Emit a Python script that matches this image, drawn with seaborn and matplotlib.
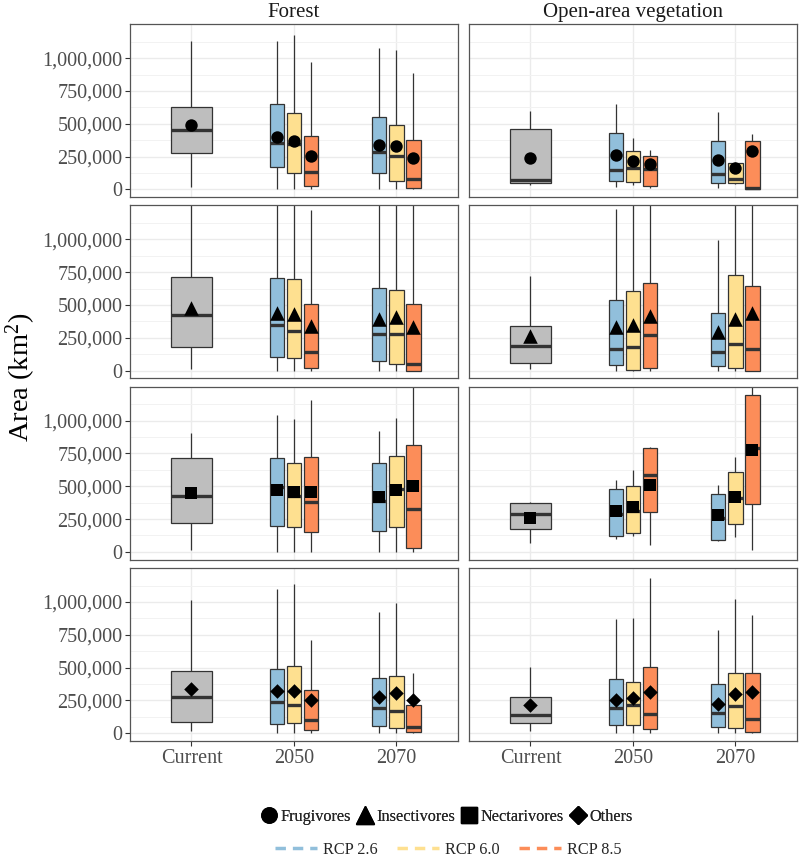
import numpy as np
import pandas as pd
import matplotlib
matplotlib.use("Agg")
import matplotlib.pyplot as plt
from matplotlib.lines import Line2D
from matplotlib.ticker import FixedLocator, FuncFormatter
import seaborn as sns

# ---------------- data (km^2) ----------------
habitats = ["Forest", "Open-area vegetation"]
guilds = ["Frugivores", "Insectivores", "Nectarivores", "Others"]
periods = ["Current", "2050", "2070"]
scenarios = ["RCP 2.6", "RCP 6.0", "RCP 8.5"]
# box order within each panel: Current, 2050 x (2.6, 6.0, 8.5), 2070 x (2.6, 6.0, 8.5)
box_period = ["Current", "2050", "2050", "2050", "2070", "2070", "2070"]
box_scenario = ["Current", "RCP 2.6", "RCP 6.0", "RCP 8.5", "RCP 2.6", "RCP 6.0", "RCP 8.5"]

# panels ordered: (Forest, Frug), (Open, Frug), (Forest, Insect), (Open, Insect), ...
whisker_low = [
    [15000, 0, 0, 0, 0, 0, 0],
    [33000, 20000, 35000, 12000, 12000, 38000, 0],
    [10000, 0, 0, 0, 0, 0, 0],
    [15000, 0, 0, 0, 0, 0, 0],
    [15000, 0, 0, 0, 0, 0, 0],
    [66000, 96000, 124000, 53000, 81000, 114000, 13000],
    [13000, 0, 0, 0, 0, 0, 0],
    [15000, 0, 0, 0, 0, 0, 0],
]
q1 = [
    [277000, 173000, 122000, 27000, 127000, 63000, 8000],
    [48000, 63000, 58000, 25000, 51000, 51000, 3000],
    [180000, 104000, 94000, 18000, 76000, 51000, 0],
    [61000, 41000, 8000, 23000, 36000, 20000, 0],
    [223000, 200000, 188000, 150000, 162000, 193000, 28000],
    [173000, 124000, 147000, 302000, 91000, 216000, 368000],
    [86000, 71000, 74000, 23000, 56000, 41000, 5000],
    [74000, 58000, 63000, 28000, 48000, 41000, 5000],
]
median = [
    [450000, 351000, 344000, 134000, 285000, 257000, 81000],
    [71000, 145000, 165000, 153000, 117000, 79000, 8000],
    [424000, 348000, 302000, 142000, 279000, 279000, 48000],
    [188000, 165000, 183000, 269000, 140000, 203000, 162000],
    [429000, 497000, 426000, 381000, 391000, 477000, 327000],
    [289000, 289000, 315000, 589000, 259000, 411000, 789000],
    [274000, 239000, 218000, 99000, 188000, 170000, 48000],
    [135000, 190000, 218000, 142000, 150000, 208000, 109000],
]
q3 = [
    [626000, 651000, 580000, 409000, 554000, 491000, 379000],
    [458000, 432000, 290000, 256000, 366000, 198000, 366000],
    [713000, 708000, 695000, 505000, 632000, 617000, 505000],
    [343000, 536000, 607000, 665000, 442000, 731000, 642000],
    [718000, 713000, 675000, 726000, 675000, 728000, 815000],
    [371000, 477000, 503000, 794000, 439000, 609000, 1195000],
    [472000, 492000, 515000, 327000, 421000, 437000, 218000],
    [272000, 409000, 393000, 505000, 371000, 459000, 459000],
]
whisker_high = [
    [1132000, 1132000, 1173000, 972000, 1079000, 1063000, 888000],
    [598000, 649000, 392000, 300000, 588000, 205000, 420000],
    [1400000, 1400000, 1400000, 1228000, 1400000, 1400000, 1400000],
    [721000, 1234000, 1400000, 1400000, 992000, 1400000, 1400000],
    [904000, 1041000, 1010000, 1157000, 924000, 1023000, 1400000],
    [381000, 548000, 622000, 800000, 510000, 726000, 1300000],
    [1013000, 1099000, 1140000, 708000, 921000, 992000, 462000],
    [503000, 868000, 876000, 1180000, 787000, 1025000, 904000],
]
mean_area = [
    [489000, 402000, 371000, 254000, 338000, 328000, 237000],
    [241000, 260000, 218000, 193000, 221000, 165000, 292000],
    [475000, 440000, 432000, 340000, 393000, 408000, 333000],
    [264000, 335000, 348000, 416000, 297000, 393000, 440000],
    [449000, 470000, 457000, 454000, 419000, 470000, 503000],
    [256000, 310000, 343000, 510000, 282000, 416000, 777000],
    [338000, 322000, 320000, 256000, 277000, 307000, 256000],
    [211000, 251000, 269000, 315000, 221000, 297000, 315000],
]
y_major = [0, 250000, 500000, 750000, 1000000]

# ---------------- style ----------------
sns.set_theme(style="white")
SERIF = "Liberation Serif"
plt.rcParams["font.family"] = [SERIF, "DejaVu Serif"]
plt.rcParams["mathtext.fontset"] = "custom"
plt.rcParams["mathtext.rm"] = SERIF
plt.rcParams["mathtext.it"] = SERIF + ":italic"

palette = {"RCP 2.6": "#91BFDB", "RCP 6.0": "#FEE090", "RCP 8.5": "#FC8D59"}
grey_fill = "#BEBEBE"
edge = "#333333"
markers = {"Frugivores": "o", "Insectivores": "^", "Nectarivores": "s", "Others": "D"}
msize = {"Frugivores": 80, "Insectivores": 110, "Nectarivores": 75, "Others": 55}

# build long table: each box described by its five summary values
rows = []
mrows = []
for r, guild in enumerate(guilds):
    for c, hab in enumerate(habitats):
        p = r * 2 + c
        for b in range(7):
            for v in (whisker_low[p][b], q1[p][b], median[p][b], q3[p][b], whisker_high[p][b]):
                rows.append(dict(habitat=hab, guild=guild, period=box_period[b],
                                 scenario=box_scenario[b], area=v))
            mrows.append(dict(habitat=hab, guild=guild, period=box_period[b],
                              scenario=box_scenario[b], area=mean_area[p][b]))
df = pd.DataFrame(rows)
mdf = pd.DataFrame(mrows)

fig, axes = plt.subplots(4, 2, figsize=(8.0, 8.59), dpi=100, sharex=True, sharey=True)
fig.subplots_adjust(left=0.1625, right=0.996, top=0.972, bottom=0.1374,
                    wspace=0.034, hspace=0.047)

dodge_step = 0.167
offsets = {"Current": 0.0, "RCP 2.6": -dodge_step, "RCP 6.0": 0.0, "RCP 8.5": dodge_step}

common = dict(x="period", y="area", order=periods, whis=(0, 100), showcaps=False,
              fliersize=0, linewidth=0.9, linecolor=edge, saturation=1,
              medianprops=dict(linewidth=2.4, color=edge),
              whiskerprops=dict(linewidth=0.9, color=edge))

minor_ticks = [125000 + 250000 * k for k in range(5)]

for r, guild in enumerate(guilds):
    for c, hab in enumerate(habitats):
        ax = axes[r, c]
        sub = df[(df.habitat == hab) & (df.guild == guild)]
        cur = sub[sub.scenario == "Current"]
        fut = sub[sub.scenario != "Current"]
        sns.boxplot(data=cur, color=grey_fill, width=0.4, ax=ax, **common)
        sns.boxplot(data=fut, hue="scenario", hue_order=scenarios, palette=palette,
                    width=0.5, gap=0.16, dodge=True, legend=False, ax=ax, **common)
        msub = mdf[(mdf.habitat == hab) & (mdf.guild == guild)]
        xs = [periods.index(pp) + offsets[sc] for pp, sc in zip(msub.period, msub.scenario)]
        ax.scatter(xs, msub.area, marker=markers[guild], s=msize[guild], color="black",
                   zorder=5, linewidths=0)

        ax.set_xlim(-0.6, 2.6)
        ax.set_ylim(-60000, 1260000)
        ax.yaxis.set_major_locator(FixedLocator(y_major))
        ax.yaxis.set_minor_locator(FixedLocator(minor_ticks))
        ax.yaxis.set_major_formatter(FuncFormatter(lambda v, _: f"{int(round(v)):,}"))
        ax.set_axisbelow(True)
        ax.grid(True, which="major", axis="both", color="#EBEBEB", linewidth=1.0)
        ax.grid(True, which="minor", axis="y", color="#F2F2F2", linewidth=0.7)
        ax.set_xlabel("")
        ax.set_ylabel("")
        for s in ax.spines.values():
            s.set_visible(True)
            s.set_color("#555555")
            s.set_linewidth(0.9)
        ax.tick_params(which="major", length=3.5, width=0.8, color="#333333",
                       labelsize=14.5, labelcolor="#4D4D4D", pad=2,
                       left=(c == 0), bottom=(r == 3))
        ax.tick_params(which="minor", length=0)
        if r == 0:
            ax.set_title(hab, fontsize=15, color="#1A1A1A", pad=5)

fig.text(0.026, 0.561, "Area (km$^2$)", rotation=90, ha="center", va="center",
         fontsize=20.5, color="black")

# legends
marker_handles = [Line2D([], [], marker=markers[g], linestyle="none", color="black",
                         markersize={"o": 11, "^": 13, "s": 11, "D": 9}[markers[g]])
                  for g in guilds]
leg1 = fig.legend(marker_handles, guilds, loc="center", bbox_to_anchor=(0.557, 0.049),
                  ncol=4, frameon=False, fontsize=11.7, handletextpad=0.05,
                  columnspacing=0.2, handlelength=1.3)
line_handles = [Line2D([], [], color=palette[s], linestyle=(0, (3, 2)), linewidth=2.5)
                for s in scenarios]
leg2 = fig.legend(line_handles, scenarios, loc="center", bbox_to_anchor=(0.56, 0.011),
                  ncol=3, frameon=False, fontsize=11.7, handletextpad=0.35,
                  columnspacing=1.2, handlelength=2.6)
fig.add_artist(leg1)

fig.savefig("out.png", dpi=100)
